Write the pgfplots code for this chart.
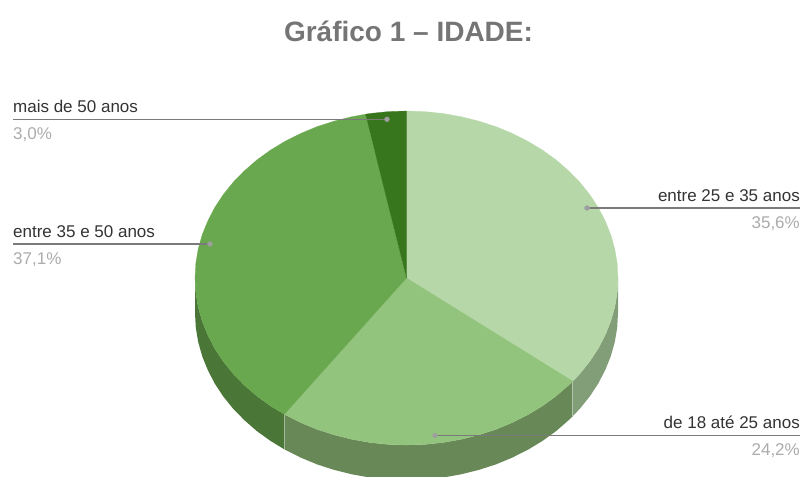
\documentclass[border=0pt]{standalone}
\usepackage{fontspec}
\setmainfont{Liberation Sans}
\usepackage{pgfplots}
\pgfplotsset{compat=1.18}
\definecolor{sliceA}{HTML}{B6D7A8}
\definecolor{sliceB}{HTML}{93C47D}
\definecolor{sliceC}{HTML}{6AA84F}
\definecolor{sliceD}{HTML}{38761D}
\definecolor{sideA}{HTML}{819E78}
\definecolor{sideB}{HTML}{688857}
\definecolor{sideC}{HTML}{4A7637}
\definecolor{leader}{HTML}{7A7A7A}
\definecolor{dotc}{HTML}{9E9E9E}
\definecolor{titlec}{HTML}{757575}
\definecolor{namec}{HTML}{333333}
\definecolor{valc}{HTML}{ABABAB}
\begin{document}
\begin{tikzpicture}
\path[use as bounding box] (0,0) rectangle (804pt,477pt);
\begin{axis}[
    at={(0,0)}, anchor=south west,
    scale only axis, width=804pt, height=477pt,
    xmin=0, xmax=804, ymin=0, ymax=477,
    y dir=reverse,
    hide axis,
]
% side walls
\addplot[fill=sideA, draw=none] coordinates {
(618,278)(617.2,292.6)(614.8,307)(610.8,321.2)(605.2,335.1)(598.2,348.6)(589.7,361.5)(579.8,373.8)(572.8,381.2)
(572.8,416.2)(579.8,408.8)(589.7,396.5)(598.2,383.6)(605.2,370.1)(610.8,356.2)(614.8,342)(617.2,327.6)(618,313)
} --cycle;
\addplot[fill=sideB, draw=none] coordinates {
(572.8,381.2)(568.5,385.3)(556.1,396.1)(542.5,405.9)(527.8,414.8)(512.3,422.6)(495.9,429.4)(478.8,434.9)(461.2,439.3)(443.2,442.5)(424.9,444.4)(406.5,445)(388.1,444.4)(369.8,442.5)(351.8,439.3)(334.2,434.9)(317.1,429.4)(300.7,422.6)(285.2,414.8)(284.3,414.3)
(284.3,449.3)(285.2,449.8)(300.7,457.6)(317.1,464.4)(334.2,469.9)(351.8,474.3)(369.8,477.5)(388.1,479.4)(406.5,480)(424.9,479.4)(443.2,477.5)(461.2,474.3)(478.8,469.9)(495.9,464.4)(512.3,457.6)(527.8,449.8)(542.5,440.9)(556.1,431.1)(568.5,420.3)(572.8,416.2)
} --cycle;
\addplot[fill=sideC, draw=none] coordinates {
(284.3,414.3)(270.5,405.9)(256.9,396.1)(244.5,385.3)(233.2,373.8)(223.3,361.5)(214.8,348.6)(207.8,335.1)(202.2,321.2)(198.2,307)(195.8,292.6)(195,278)
(195,313)(195.8,327.6)(198.2,342)(202.2,356.2)(207.8,370.1)(214.8,383.6)(223.3,396.5)(233.2,408.8)(244.5,420.3)(256.9,431.1)(270.5,440.9)(284.3,449.3)
} --cycle;
\addplot[draw=sideA!60!white, line width=0.7pt] coordinates {(572.8,381.2)(572.8,416.2)};
\addplot[draw=sideB!60!white, line width=0.7pt] coordinates {(284.3,414.3)(284.3,449.3)};
% top face: 35,6 / 24,2 / 37,1 / 3,0 clockwise from the top
\addplot[fill=sliceA, draw=sliceA, line width=0.2pt] coordinates {
(406.5,278)(406.5,111)(424.9,111.6)(443.2,113.5)(461.2,116.7)(478.8,121.1)(495.9,126.6)(512.3,133.4)(527.8,141.2)(542.5,150.1)(556.1,159.9)(568.5,170.7)(579.8,182.2)(589.7,194.5)(598.2,207.4)(605.2,220.9)(610.8,234.8)(614.8,249)(617.2,263.4)(618,278)(617.2,292.6)(614.8,307)(610.8,321.2)(605.2,335.1)(598.2,348.6)(589.7,361.5)(579.8,373.8)(572.8,381.2)
} --cycle;
\addplot[fill=sliceB, draw=sliceB, line width=0.2pt] coordinates {
(406.5,278)(572.8,381.2)(568.5,385.3)(556.1,396.1)(542.5,405.9)(527.8,414.8)(512.3,422.6)(495.9,429.4)(478.8,434.9)(461.2,439.3)(443.2,442.5)(424.9,444.4)(406.5,445)(388.1,444.4)(369.8,442.5)(351.8,439.3)(334.2,434.9)(317.1,429.4)(300.7,422.6)(285.2,414.8)(284.3,414.3)
} --cycle;
\addplot[fill=sliceC, draw=sliceC, line width=0.2pt] coordinates {
(406.5,278)(284.3,414.3)(270.5,405.9)(256.9,396.1)(244.5,385.3)(233.2,373.8)(223.3,361.5)(214.8,348.6)(207.8,335.1)(202.2,321.2)(198.2,307)(195.8,292.6)(195,278)(195.8,263.4)(198.2,249)(202.2,234.8)(207.8,220.9)(214.8,207.4)(223.3,194.5)(233.2,182.2)(244.5,170.7)(256.9,159.9)(270.5,150.1)(285.2,141.2)(300.7,133.4)(317.1,126.6)(334.2,121.1)(351.8,116.7)(365.6,114.2)
} --cycle;
\addplot[fill=sliceD, draw=sliceD, line width=0.2pt] coordinates {
(406.5,278)(365.6,114.2)(369.8,113.5)(388.1,111.6)(406.5,111)
} --cycle;
% leaders
\addplot[leader, line width=1.3pt] coordinates {(13,119.3)(387,119.3)};
\addplot[leader, line width=1.3pt] coordinates {(13,244)(210,244)};
\addplot[leader, line width=1.3pt] coordinates {(587,208)(800,208)};
\addplot[leader, line width=1.3pt] coordinates {(435,435.5)(800,435.5)};
\addplot[only marks, mark=*, mark size=2.4pt, mark options={fill=dotc, draw=dotc}] coordinates {
(387,119.3)(210,244)(587,208)(435,435.5)};
% text
\node[font=\bfseries\fontsize{28}{30}\selectfont, text=titlec, anchor=center] at (axis cs:408.5,31) {Gráfico 1 – IDADE:};
\tikzset{nm/.style={font=\fontsize{17}{19}\selectfont, text=namec, inner sep=0pt},
         vl/.style={font=\fontsize{17}{19}\selectfont, text=valc, inner sep=0pt}}
\node[nm, anchor=base west] at (axis cs:13,112) {mais de 50 anos};
\node[vl, anchor=base west] at (axis cs:13,139) {3,0\%};
\node[nm, anchor=base west] at (axis cs:13,237) {entre 35 e 50 anos};
\node[vl, anchor=base west] at (axis cs:13,264) {37,1\%};
\node[nm, anchor=base east] at (axis cs:800,201) {entre 25 e 35 anos};
\node[vl, anchor=base east] at (axis cs:800,228) {35,6\%};
\node[nm, anchor=base east] at (axis cs:800,428) {de 18 até 25 anos};
\node[vl, anchor=base east] at (axis cs:800,455) {24,2\%};
\end{axis}
\end{tikzpicture}
\end{document}
